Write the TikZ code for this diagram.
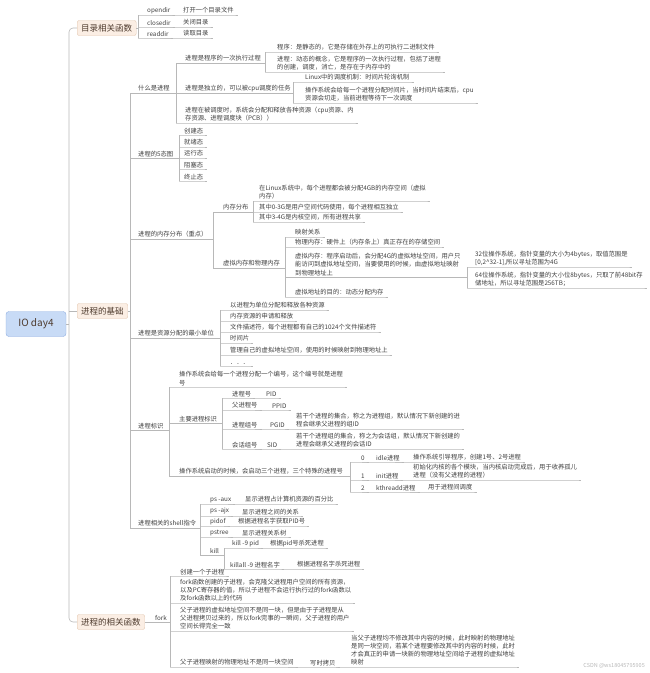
\documentclass[tikz,border=0pt]{standalone}
\usepackage{fontspec}
\newfontfamily\cjk{Noto Sans CJK SC}

\definecolor{lncol}{HTML}{B8B8B8}
\definecolor{txt}{HTML}{3F3F3F}
\definecolor{boxfill}{HTML}{FBEEE4}
\definecolor{boxline}{HTML}{E2C6AE}
\definecolor{boxtxt}{HTML}{4E3B2E}
\definecolor{rootfill}{HTML}{C8DBF6}
\definecolor{rootline}{HTML}{8EADE0}

\tikzset{
  ln/.style={draw=lncol, line width=0.6pt},
  lbl/.style={anchor=south west, inner sep=0pt, align=left, text=txt,
    font=\cjk\fontsize{6.3}{8.3}\selectfont},
  topic/.style={draw=boxline, fill=boxfill, rounded corners=2pt, inner xsep=4pt,
    minimum height=15pt, anchor=west, text=boxtxt, font=\cjk\fontsize{8.5}{9}\selectfont},
  rootbox/.style={draw=rootline, fill=rootfill, rounded corners=3pt, minimum width=60pt,
    minimum height=25pt, text=boxtxt, font=\cjk\fontsize{10}{11}\selectfont},
  wmark/.style={anchor=south east, inner sep=0pt, text=lncol, font=\cjk\fontsize{5.5}{6}\selectfont},
}

% name, from x, text x, underline y, text
\newcommand{\twig}[5]{%
  \node[lbl] (#1) at (#3,#4-1.3) {#5};
  \draw[ln] (#2,#4) -- (#1.east |- 0,#4) -- ++(4,0);}
% name, from x, text x, underline y, to x, text
\newcommand{\hub}[6]{%
  \node[lbl] (#1) at (#3,#4-1.3) {#6};
  \draw[ln] (#2,#4) -- (#5,#4);}
\newcommand{\stem}[3]{\draw[ln] (#1,#2) -- (#1,#3);}

\begin{document}
\begin{tikzpicture}[x=1pt, y=-1pt]
\useasboundingbox (0,0) rectangle (650,673);
%----------------------------------------------------------
	% Root and main topics
	%------------------------------------------------------
	\node[rootbox] (io) at (36,324) {IO day4};
	\node[topic] (dir) at (77,28) {目录相关函数};
	\node[topic] (base) at (77,311) {进程的基础};
	\node[topic] (fun) at (77,622) {进程的相关函数};

	\draw[ln] (io.east) -- (69,324);
	\draw[ln, rounded corners=4pt] (dir.west) -- (69,28) -- (69,622) -- (fun.west);
	\draw[ln] (69,311) -- (base.west);

	%Directory functions
	%------------------------------------------------------
	\draw[ln] (dir.east) -- (138,28);
	\stem{138}{15}{38}
	\twig{opendir}{138}{147}{15}{opendir}
	\twig{opendirT}{160}{183}{15}{打开一个目录文件}
	\twig{closedir}{138}{147}{27}{closedir}
	\twig{closedirT}{160}{183}{27}{关闭目录}
	\twig{readdir}{138}{147}{38}{readdir}
	\twig{readdirT}{160}{183}{38}{读取目录}

	%Process basics
	%------------------------------------------------------
	\draw[ln] (base.east) -- (130,311);
	\stem{130}{93}{528}

	%What is a process
	\hub{what}{130}{138}{93}{176}{什么是进程}
	\stem{176}{63}{123}
	\hub{once}{176}{185}{63}{265}{进程是程序的一次执行过程}
	\stem{265}{52}{72}
	\twig{prog}{265}{277}{52}{程序：是静态的，它是存储在外存上的可执行二进制文件}
	\twig{proc}{265}{277}{72}{进程：动态的概念，它是程序的一次执行过程，包括了进程\\的创建，调度，消亡，是存在于内存中的}
	\hub{indep}{176}{185}{93}{293}{进程是独立的，可以被cpu调度的任务}
	\stem{293}{82}{103}
	\twig{sched}{293}{305}{82}{Linux中的调度机制：时间片轮询机制}
	\twig{slice}{293}{305}{103}{操作系统会给每一个进程分配时间片，当时间片结束后，cpu\\资源会切走，当前进程等待下一次调度}
	\twig{alloc}{176}{185}{123}{进程在被调度时，系统会分配和释放各种资源（cpu资源、内\\存资源、进程调度块（PCB））}

	%Five states
	\hub{states}{130}{138}{158}{179}{进程的5态图}
	\stem{179}{135}{181}
	\twig{stNew}{179}{184}{135}{创建态}
	\twig{stReady}{179}{184}{147}{就绪态}
	\twig{stRun}{179}{184}{158}{运行态}
	\twig{stBlock}{179}{184}{169}{阻塞态}
	\twig{stEnd}{179}{184}{181}{终止态}

	%Memory layout
	\hub{mem}{130}{138}{239}{213}{进程的内存分布（重点）}
	\stem{213}{212}{268}
	\hub{layout}{213}{223}{212}{253}{内存分布}
	\stem{253}{201}{222}
	\twig{fourG}{253}{259}{201}{在Linux系统中，每个进程都会被分配4GB的内存空间（虚拟\\内存）}
	\twig{user}{253}{259}{212}{其中0-3G是用户空间代码使用，每个进程相互独立}
	\twig{kern}{253}{259}{222}{其中3-4G是内核空间，所有进程共享}
	\hub{virt}{213}{223}{268}{285}{虚拟内存和物理内存}
	\stem{285}{237}{297}
	\twig{map}{285}{295}{237}{映射关系}
	\twig{phys}{285}{295}{247}{物理内存：硬件上（内存条上）真正存在的存储空间}
	\hub{vmem}{285}{295}{277}{467}{虚拟内存：程序启动后，会分配4G的虚拟地址空间，用户只\\能访问到虚拟地址空间，当要使用的时候，由虚拟地址映射\\到物理地址上}
	\stem{467}{267}{288}
	\twig{bit32}{467}{475}{267}{32位操作系统，指针变量的大小为4bytes，取值范围是\\{[}0,2\textasciicircum32-1{]},所以寻址范围为4G}
	\twig{bit64}{467}{475}{288}{64位操作系统，指针变量的大小位8bytes，只取了前48bit存\\储地址，所以寻址范围是256TB；}
	\twig{aim}{285}{295}{297}{虚拟地址的目的：动态分配内存}

	%Smallest unit of resources
	\hub{unit}{130}{138}{338}{220}{进程是资源分配的最小单位}
	\stem{220}{310}{366}
	\twig{resA}{220}{230}{310}{以进程为单位分配和释放各种资源}
	\twig{resB}{220}{230}{321}{内存资源的申请和释放}
	\twig{resC}{220}{230}{332}{文件描述符，每个进程都有自己的1024个文件描述符}
	\twig{resD}{220}{230}{343}{时间片}
	\twig{resE}{220}{230}{355}{管理自己的虚拟地址空间，使用的时候映射到物理地址上}
	\twig{resF}{220}{230}{366}{．．．}

	%Process identifiers
	\hub{ident}{130}{138}{430}{169}{进程标识}
	\stem{169}{387}{476}
	\twig{number}{169}{179}{387}{操作系统会给每一个进程分配一个编号，这个编号就是进程\\号}
	\hub{mainId}{169}{179}{423}{222}{主要进程标识}
	\stem{222}{398}{449}
	\twig{pidN}{222}{232}{398}{进程号}
	\twig{pid}{250}{266}{398}{PID}
	\twig{ppidN}{222}{232}{410}{父进程号}
	\twig{ppid}{255}{272}{410}{PPID}
	\twig{pgidN}{222}{232}{429}{进程组号}
	\twig{pgid}{255}{270}{429}{PGID}
	\twig{pgidT}{285}{296}{429}{若干个进程的集合，称之为进程组，默认情况下新创建的进\\程会继承父进程的组ID}
	\twig{sidN}{222}{232}{449}{会话组号}
	\twig{sid}{255}{267}{449}{SID}
	\twig{sidT}{275}{296}{449}{若干个进程组的集合，称之为会话组，默认情况下新创建的\\进程会继承父进程的会话ID}
	\hub{boot}{169}{179}{476}{350}{操作系统启动的时候，会启动三个进程，三个特殊的进程号}
	\stem{350}{462}{492}
	\twig{zero}{350}{361}{462}{0}
	\twig{idle}{362}{376}{462}{idle进程}
	\twig{idleT}{395}{413}{462}{操作系统引导程序，创建1号、2号进程}
	\twig{one}{350}{361}{480}{1}
	\twig{init}{362}{376}{480}{init进程}
	\twig{initT}{395}{413}{480}{初始化内核的各个模块，当内核启动完成后，用于收养孤儿\\进程（没有父进程的进程）}
	\twig{two}{350}{361}{492}{2}
	\twig{kthr}{362}{376}{492}{kthreadd进程}
	\twig{kthrT}{410}{428}{492}{用于进程间调度}

	%Shell commands
	\hub{shell}{130}{138}{528}{200}{进程相关的shell指令}
	\stem{200}{504}{555}
	\twig{psaux}{200}{210}{504}{ps -aux}
	\twig{psauxT}{228}{245}{504}{显示进程占计算机资源的百分比}
	\twig{psajx}{200}{210}{516}{ps -ajx}
	\twig{psajxT}{228}{242}{516}{显示进程之间的关系}
	\twig{pidof}{200}{210}{526}{pidof}
	\twig{pidofT}{224}{238}{526}{根据进程名字获取PID号}
	\twig{pstree}{200}{210}{537}{pstree}
	\twig{pstreeT}{228}{242}{537}{显示进程关系树}
	\hub{kill}{200}{210}{555}{224}{kill}
	\stem{224}{548}{569}
	\twig{killpid}{224}{232}{548}{kill -9 pid}
	\twig{killpidT}{258}{270}{548}{根据pid号杀死进程}
	\twig{killall}{224}{230}{569}{killall -9 进程名字}
	\twig{killallT}{283}{297}{569}{根据进程名字杀死进程}

	%Process functions
	%------------------------------------------------------
	\node[lbl] (fork) at (155,620.7) {fork};
	\draw[ln] (fun.east) -- (170,622);
	\stem{170}{576}{667}
	\twig{child}{170}{180}{576}{创建一个子进程}
	\twig{clone}{170}{180}{603}{fork函数创建的子进程，会克隆父进程用户空间的所有资源，\\以及PC寄存器的值，所以子进程不会运行执行过的fork函数以\\及fork函数以上的代码}
	\twig{space}{170}{180}{631}{父子进程的虚拟地址空间不是同一块，但是由于子进程是从\\父进程拷贝过来的，所以fork完事的一瞬间，父子进程的用户\\空间长得完全一致}
	\twig{physDiff}{170}{180}{667}{父子进程映射的物理地址不是同一块空间}
	\twig{cow}{288}{310}{667}{写时拷贝}
	\twig{cowT}{336}{351}{667}{当父子进程均不修改其中内容的时候，此时映射的物理地址\\是同一块空间，若某个进程要修改其中的内容的时候，此时\\才会真正的申请一块新的物理地址空间给子进程的虚拟地址\\映射}

	\node[wmark] (wm) at (645,669) {CSDN @ws18045795905};
\end{tikzpicture}
\end{document}
